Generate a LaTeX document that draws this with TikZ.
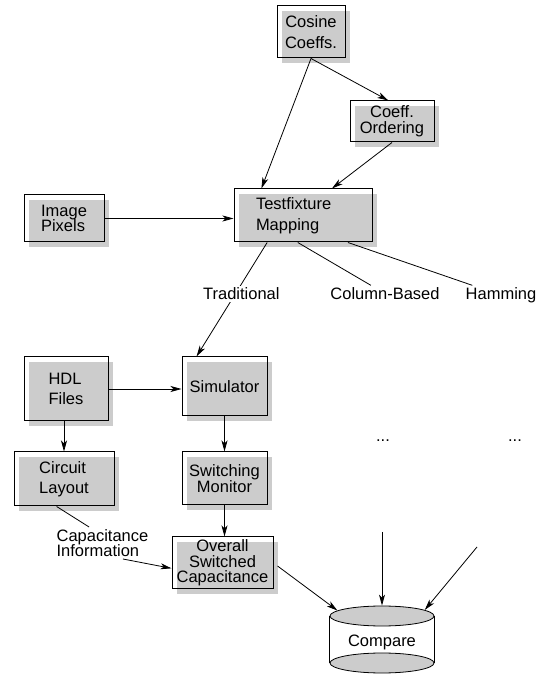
\documentclass[tikz,border=0pt]{standalone}
\usepackage{fontspec,xcolor,tikz}
\setmainfont{Liberation Sans}
\usetikzlibrary{arrows.meta,shadows,shapes.geometric}
\definecolor{ink}{HTML}{000000}
\definecolor{kastengrau}{HTML}{CCCCCC}
\newcommand{\kastenfont}{\fontsize{16.5}{20.5}\selectfont}
\newcommand{\engfont}{\fontsize{16.5}{15.5}\selectfont}
\tikzset{kasten/.style={draw=ink,line width=1pt,inner sep=0pt,align=left,font=\kastenfont,
    general shadow={fill=kastengrau,shadow xshift=5pt,shadow yshift=-5pt}},
  pfeil/.style={ink,line width=0.8pt,-{Stealth[length=11pt,width=6pt,inset=3pt]}},
  linie/.style={ink,line width=0.8pt},
  etikett/.style={inner sep=2pt,font=\kastenfont},
  scheibe/.style={ellipse,draw=ink,line width=0.8pt,fill=kastengrau,
    minimum width=104pt,minimum height=20pt,inner sep=0pt}}

\begin{document}
\begin{tikzpicture}[x=1pt,y=1pt]
\useasboundingbox (0,0) rectangle (543,677);
% Kaesten mit versetztem grauem Schatten; "Traditional" unterbricht die Linie zum
% Simulator, die beiden rechten Zweige zum Vergleich sind nur angedeutet
\node[kasten,align=center,minimum width=68pt,minimum height=52pt] (cosine) at (311,645) {Cosine\\Coeffs.};
\node[kasten,align=center,font=\engfont,minimum width=84pt,minimum height=41pt] (ordering) at (392,555.5) {Coeff.\\Ordering};
\node[kasten,font=\engfont,minimum width=80pt,minimum height=47pt] (pixels) at (64,458.5) {Image\\Pixels};
\node[kasten,minimum width=138pt,minimum height=53pt,text width=94pt,inner xsep=22pt] (mapping) at (303,461.5) {Testfixture\\Mapping};
\node[kasten,minimum width=84pt,minimum height=64pt] (hdl) at (66,288) {HDL\\Files};
\node[kasten,minimum width=85pt,minimum height=59pt] (simulator) at (224.5,290.5) {Simulator};
\node[kasten,minimum width=100pt,minimum height=54pt] (layout) at (64,198) {Circuit\\Layout};
\node[kasten,align=center,font=\engfont,minimum width=85pt,minimum height=53pt] (monitor) at (224.5,198.5) {Switching\\Monitor};
\node[kasten,align=center,font=\engfont,minimum width=101pt,minimum height=52pt] (overall) at (222.5,114) {Overall\\Switched\\Capacitance};
\node[etikett,anchor=base] (col) at (385,377.5) {Column-Based};
\node[etikett,anchor=base] (ham) at (501,377.5) {Hamming};
\node[etikett,align=left,font=\engfont] (capinfo) at (102.5,134) {Capacitance\\Information};
\node[etikett,anchor=base] (punktea) at (383,235) {...};
\node[etikett,anchor=base] (punkteb) at (515,235) {...};
\node[scheibe] (boden) at (382,14) {};
\node[scheibe] (deckel) at (382,61) {};
\draw[linie] (deckel.west) -- (boden.west) (deckel.east) -- (boden.east);
\node[etikett,anchor=base] (compare) at (382,30.3) {Compare};
\coordinate (zweigb) at (382,145);
\coordinate (zweigc) at (477,130);
\draw[pfeil] (cosine.south) -- (ordering.100);
\draw[pfeil] (cosine.south) -- (mapping.147);
\draw[pfeil] (ordering.south) -- (mapping.43);
\draw[pfeil] (pixels.east) -- (pixels.east -| mapping.west);
\draw[pfeil] (mapping.217) -- node[etikett,pos=.45,fill=white,xshift=6pt] (trad) {Traditional} (simulator.133);
\draw[linie] (mapping.259) -- (col);
\draw[linie] (mapping.329) -- (ham);
\draw[pfeil] (hdl.east) -- (hdl.east -| simulator.west);
\draw[pfeil] (hdl.south -| layout.north) -- (layout.north);
\draw[pfeil] (simulator) -- (monitor);
\draw[pfeil] (monitor.south) -- (monitor.south |- overall.north);
\draw[linie] (layout.255) -- (capinfo.130);
\draw[pfeil] (capinfo.322) -- (overall.186);
\draw[pfeil,shorten <=5pt] (overall.east) -- (deckel.173);
\draw[pfeil] (zweigb) -- (deckel.north);
\draw[pfeil] (zweigc) -- (deckel.8);
\end{tikzpicture}
\end{document}
